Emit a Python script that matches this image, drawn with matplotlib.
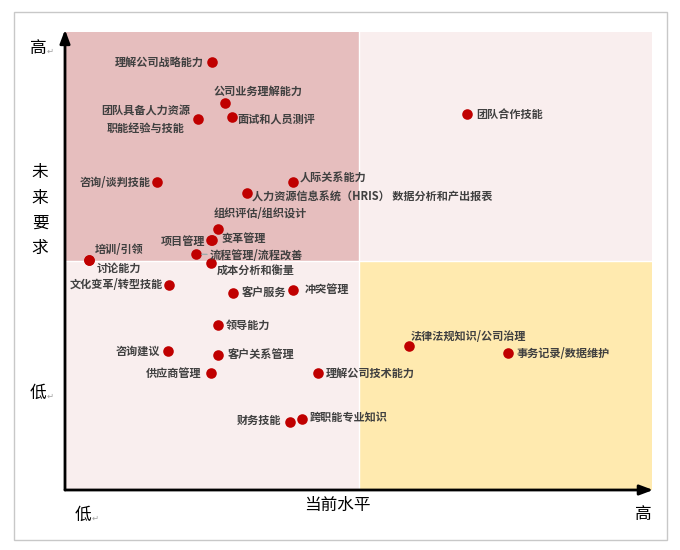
import matplotlib
matplotlib.use("Agg")
import matplotlib.pyplot as plt
from matplotlib.patches import Rectangle

plt.rcParams['font.family'] = ['Noto Sans CJK SC', 'DejaVu Sans']

# ---- data ----
skills = ["理解公司战略能力", "公司业务理解能力", "团队具备人力资源\n职能经验与技能", "面试和人员测评",
          "团队合作技能", "咨询/谈判技能", "人际关系能力", "人力资源信息系统（HRIS） 数据分析和产出报表",
          "组织评估/组织设计", "项目管理", "变革管理", "流程管理/流程改善", "成本分析和衡量",
          "培训/引领", "讨论能力", "文化变革/转型技能", "客户服务", "冲突管理", "领导能力",
          "咨询建议", "客户关系管理", "供应商管理", "理解公司技术能力", "法律法规知识/公司治理",
          "事务记录/数据维护", "财务技能", "跨职能专业知识"]
current_level = [2.50, 2.73, 2.27, 2.84, 6.85, 1.57, 3.88, 3.10, 2.61, 2.49, 2.50, 2.23, 2.49,
                 0.41, 0.41, 1.77, 2.86, 3.88, 2.61, 1.75, 2.61, 2.49, 4.31, 5.86, 7.55, 3.83, 4.04]
future_need = [9.34, 8.45, 8.10, 8.14, 8.21, 6.72, 6.72, 6.48, 5.70, 5.46, 5.46, 5.15, 4.96,
               5.02, 5.02, 4.48, 4.30, 4.37, 3.60, 3.03, 2.95, 2.55, 2.55, 3.14, 2.99, 1.48, 1.55]
axis_low, axis_high = "低", "高"
x_title = "当前水平"
y_title = "未来要求"

# ---- label placement (pixel offsets, alignment) ----
place = [(-8, 0, 'right'), (-12, 12, 'left'), (-8, 0, 'right'), (6, -2, 'left'),
         (9, 0, 'left'), (-7, 0, 'right'), (7, 4, 'left'), (5, -4, 'left'),
         (-5, 15, 'left'), (-6, -2, 'right'), (10, 1, 'left'), (14, -1, 'left'), (6, -7, 'left'),
         (6, 11, 'left'), (8, -8, 'left'), (-6, 0, 'right'), (9, 0, 'left'), (12, 0, 'left'),
         (8, 0, 'left'), (-8, 0, 'right'), (10, 0, 'left'), (-10, 0, 'right'), (8, 0, 'left'),
         (2, 10, 'left'), (8, 0, 'left'), (-9, 2, 'right'), (8, 2, 'left')]

W, H = 680, 550
fig = plt.figure(figsize=(W / 100, H / 100), dpi=100)
fig.patch.set_facecolor('white')

# outer border
fig.add_artist(Rectangle((14 / W, 1 - 540 / H), (667 - 14) / W, (540 - 12) / H,
                         transform=fig.transFigure, fill=False, edgecolor='#C8C8C8', lw=1))

x0, x1, ytop, ybot = 65, 652, 32, 490
ax = fig.add_axes([x0 / W, 1 - ybot / H, (x1 - x0) / W, (ybot - ytop) / H])
ax.set_xlim(0, 10)
ax.set_ylim(0, 10)
ax.axis('off')

ax.add_patch(Rectangle((0, 5), 5, 5, facecolor='#E6BEBE', edgecolor='none', zorder=0))
ax.add_patch(Rectangle((5, 5), 5, 5, facecolor='#F9EEEE', edgecolor='none', zorder=0))
ax.add_patch(Rectangle((0, 0), 5, 5, facecolor='#F9EEEE', edgecolor='none', zorder=0))
ax.add_patch(Rectangle((5, 0), 5, 5, facecolor='#FFEAAF', edgecolor='none', zorder=0))
ax.plot([5, 5], [0, 10], color='white', lw=1, zorder=0.5)
ax.plot([0, 10], [5, 5], color='white', lw=1, zorder=0.5)

# axes arrows
ax.annotate('', xy=(0, 10.05), xytext=(0, 0), xycoords='data',
            arrowprops=dict(arrowstyle='-|>,head_length=0.8,head_width=0.3', color='black', lw=2,
                            shrinkA=0, shrinkB=0), annotation_clip=False)
ax.annotate('', xy=(10.02, 0), xytext=(0, 0), xycoords='data',
            arrowprops=dict(arrowstyle='-|>,head_length=0.8,head_width=0.3', color='black', lw=2,
                            shrinkA=0, shrinkB=0), annotation_clip=False)

ax.scatter(current_level, future_need, s=58, color='#C00000', zorder=3, linewidths=0)

for name, xv, yv, (dx, dy, ha) in zip(skills, current_level, future_need, place):
    kw = {}
    if name.startswith("流程管理"):
        kw['arrowprops'] = dict(arrowstyle='-', color='#8FA8A8', lw=0.8, shrinkA=0, shrinkB=4)
    ax.annotate(name, xy=(xv, yv), xytext=(dx, dy), textcoords='offset pixels',
                ha=ha, va='center', fontsize=8, fontweight='bold', color='#404040',
                multialignment='center', linespacing=1.55, zorder=4, annotation_clip=False, **kw)

# axis labels
tkw = dict(transform=fig.transFigure, fontsize=12, color='black', va='center')
small = dict(transform=fig.transFigure, fontsize=6, color='#A0A0A0', va='center')
def ftext(px, py, s, **kw):
    fig.text(px / W, 1 - py / H, s, **kw)

ftext(38, 48, axis_high, ha='center', **tkw)
ftext(47, 51, "↵", ha='left', **small)
ftext(38, 393, axis_low, ha='center', **tkw)
ftext(47, 396, "↵", ha='left', **small)
for i, ch in enumerate(y_title):
    ftext(40, 173 + i * 25, ch, ha='center', **tkw)
ftext(337, 505, x_title, ha='center', **tkw)
ftext(83, 515, axis_low, ha='center', **tkw)
ftext(92, 518, "↵", ha='left', **small)
ftext(643, 515, axis_high, ha='center', **tkw)

fig.savefig('out.png', dpi=100)
